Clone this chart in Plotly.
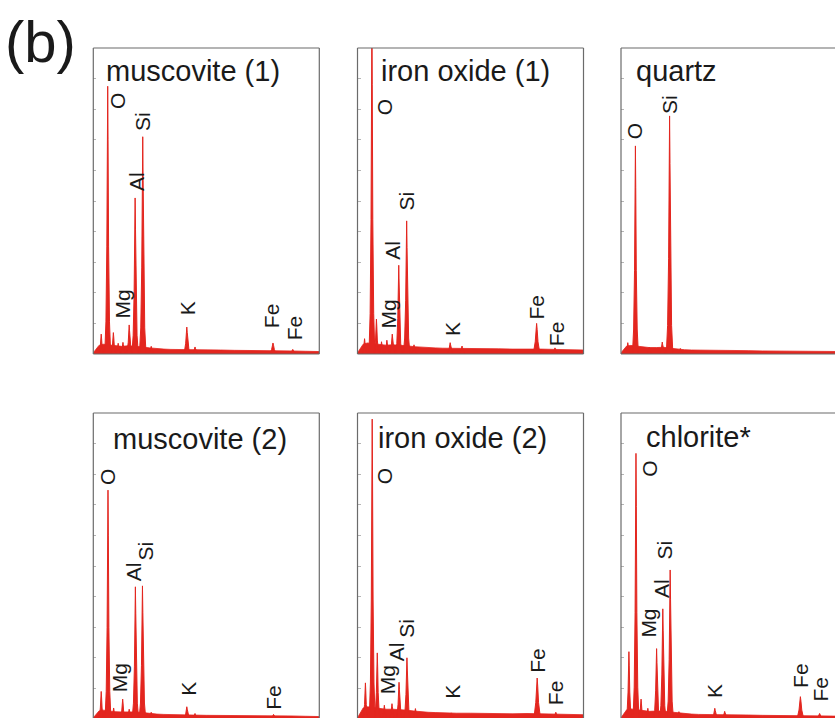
import plotly.graph_objects as go

W, H = 835, 718
RED = "#e3261f"
BORDER = "#6b6b6b"
FONT = "Liberation Sans, Arial, sans-serif"

titles = ["muscovite (1)", "iron oxide (1)", "quartz",
          "muscovite (2)", "iron oxide (2)", "chlorite*"]

# ---- peak positions (keV) and heights (% of panel full scale) ----
musc1_pe = [0.28, 0.51, 0.71, 0.88, 1.05, 1.27, 1.48, 1.75, 2.05, 3.31, 3.60, 6.36, 7.06]
musc1_ph = [6.5, 87.5, 7.0, 3.5, 3.8, 9.5, 51.0, 71.0, 2.5, 8.8, 2.3, 3.6, 1.5]

iron1_pe = [0.25, 0.51, 0.67, 0.85, 1.04, 1.23, 1.46, 1.74, 2.00, 3.28, 3.70, 6.34, 6.99]
iron1_ph = [5.0, 110.0, 11.4, 4.0, 4.5, 6.5, 29.0, 43.5, 3.0, 3.7, 2.6, 10.0, 2.0]

quartz_pe = [0.24, 0.51, 1.00, 1.46, 1.72, 2.10]
quartz_ph = [3.7, 68.0, 2.2, 3.9, 77.8, 1.8]

musc2_pe = [0.28, 0.52, 0.72, 1.04, 1.27, 1.49, 1.74, 2.05, 3.31, 3.60, 6.38]
musc2_ph = [9.0, 74.8, 3.6, 6.5, 3.2, 43.2, 43.5, 2.2, 4.0, 1.8, 1.5]

iron2_pe = [0.28, 0.52, 0.70, 0.95, 1.22, 1.47, 1.75, 2.05, 3.32, 6.36, 7.02]
iron2_ph = [11.8, 98.0, 21.6, 4.5, 5.0, 12.0, 20.0, 3.4, 2.0, 13.4, 2.2]

chlor_pe = [0.28, 0.53, 0.71, 0.95, 1.26, 1.48, 1.74, 2.05, 3.32, 3.67, 6.35, 7.03]
chlor_ph = [22.0, 86.8, 6.5, 3.5, 23.0, 36.0, 48.7, 2.4, 3.5, 2.5, 7.3, 1.8]

# ---- continuum background (keV grid, % of full scale) ----
bg_e = [0.0, 0.1, 0.2, 0.35, 0.5, 0.75, 1.0, 1.25, 1.5, 1.75, 2.0, 2.25, 2.5,
        2.75, 3.0, 3.5, 4.0, 4.5, 5.0, 5.5, 6.0, 6.5, 7.0, 7.5, 8.0]
musc1_bg = [0.4, 1.6, 2.8, 3.2, 3.0, 2.6, 2.5, 2.7, 2.6, 2.3, 2.0, 1.7, 1.6,
            1.5, 1.5, 1.4, 1.3, 1.3, 1.2, 1.2, 1.1, 1.0, 1.0, 0.9, 0.8]
iron1_bg = [0.4, 1.9, 3.2, 3.6, 3.4, 3.0, 2.9, 3.0, 2.9, 2.7, 2.4, 2.2, 2.0,
            2.0, 1.9, 1.9, 1.8, 1.7, 1.7, 1.6, 1.7, 1.6, 1.5, 1.4, 1.3]
quartz_bg = [0.4, 1.6, 2.6, 2.8, 2.6, 2.2, 2.1, 2.1, 2.2, 1.9, 1.6, 1.4, 1.3,
             1.3, 1.2, 1.2, 1.1, 1.1, 1.0, 1.0, 1.0, 0.9, 0.9, 0.9, 0.8]
musc2_bg = [0.4, 1.5, 2.6, 2.9, 2.7, 2.4, 2.3, 2.4, 2.3, 2.1, 1.8, 1.6, 1.5,
            1.4, 1.4, 1.3, 1.2, 1.2, 1.1, 1.1, 1.1, 1.0, 1.0, 0.9, 0.8]
iron2_bg = [0.4, 2.2, 3.6, 4.0, 3.8, 3.4, 3.2, 3.2, 3.1, 2.9, 2.6, 2.3, 2.2,
            2.1, 2.0, 1.9, 1.9, 1.8, 1.8, 1.7, 1.8, 1.7, 1.6, 1.5, 1.4]
chlor_bg = [0.4, 1.8, 3.0, 3.3, 3.1, 2.7, 2.5, 2.6, 2.6, 2.3, 2.0, 1.7, 1.6,
            1.5, 1.5, 1.4, 1.3, 1.3, 1.2, 1.2, 1.2, 1.1, 1.1, 1.0, 0.9]

# ---- element labels: text, energy position (keV), height (%) ----
musc1_lt = ["O", "Si", "Al", "Mg", "K", "Fe", "Fe"]
musc1_lx = [0.88, 1.72, 1.51, 1.03, 3.32, 6.29, 7.15]
musc1_ly = [82.7, 76.1, 56.5, 16.3, 15.0, 12.7, 8.5]

iron1_lt = ["O", "Si", "Al", "Mg", "K", "Fe", "Fe"]
iron1_lx = [0.96, 1.70, 1.25, 1.11, 3.36, 6.34, 7.05]
iron1_ly = [80.5, 50.0, 34.0, 13.2, 8.3, 15.4, 6.7]

quartz_lt = ["O", "Si"]
quartz_lx = [0.51, 1.72]
quartz_ly = [72.9, 81.6]

musc2_lt = ["O", "Al", "Si", "Mg", "K", "Fe"]
musc2_lx = [0.50, 1.42, 1.86, 0.91, 3.34, 6.38]
musc2_ly = [79.2, 48.1, 55.0, 13.3, 9.8, 7.1]

iron2_lt = ["O", "Si", "Al", "Mg", "K", "Fe", "Fe"]
iron2_lx = [0.96, 1.73, 1.38, 1.05, 3.38, 6.36, 7.02]
iron2_ly = [79.2, 29.6, 22.0, 12.7, 8.9, 19.1, 8.7]

chlor_lt = ["O", "Si", "Al", "Mg", "K", "Fe", "Fe"]
chlor_lx = [1.00, 1.54, 1.44, 0.97, 3.33, 6.35, 7.06]
chlor_ly = [81.9, 55.2, 42.7, 31.3, 9.2, 14.2, 9.8]

panels = [
    (musc1_pe, musc1_ph, musc1_bg, musc1_lt, musc1_lx, musc1_ly),
    (iron1_pe, iron1_ph, iron1_bg, iron1_lt, iron1_lx, iron1_ly),
    (quartz_pe, quartz_ph, quartz_bg, quartz_lt, quartz_lx, quartz_ly),
    (musc2_pe, musc2_ph, musc2_bg, musc2_lt, musc2_lx, musc2_ly),
    (iron2_pe, iron2_ph, iron2_bg, iron2_lt, iron2_lx, iron2_ly),
    (chlor_pe, chlor_ph, chlor_bg, chlor_lt, chlor_lx, chlor_ly),
]

# ---- layout geometry (pixels) ----
E_MAX = 8.0
PANEL_W, PANEL_H = 226.0, 306.0
col_left = [93.3, 357.5, 621.0]
row_top = [48.0, 413.0]
title_pos = [(104, 71), (379, 71), (634, 71), (111, 439), (376, 438), (644, 437)]
# peak profile (relative offsets scaled by width, relative heights)
PROFILE = [(-1.0, 0.0), (-0.6, 0.12), (-0.3, 0.4), (-0.12, 0.8), (0.0, 1.0),
           (0.12, 0.8), (0.3, 0.4), (0.6, 0.12), (1.0, 0.0)]

fig = go.Figure()
shapes, annotations = [], []

for i, (pe, ph, bg, lt, lx, ly) in enumerate(panels):
    r, c = divmod(i, 3)
    n = i + 1
    xa = "xaxis" if n == 1 else f"xaxis{n}"
    ya = "yaxis" if n == 1 else f"yaxis{n}"
    xr = "x" if n == 1 else f"x{n}"
    yr = "y" if n == 1 else f"y{n}"

    left = col_left[c]
    right_full = left + PANEL_W
    right = min(right_full, W)
    top = row_top[r]
    bottom_full = top + PANEL_H
    bottom = min(bottom_full, H)

    x_hi = E_MAX * (right - left) / PANEL_W
    y_lo = 100.0 * (bottom_full - bottom) / PANEL_H

    fig.layout[xa] = dict(domain=[left / W, right / W], range=[0, x_hi],
                          showgrid=False, zeroline=False, showticklabels=False,
                          ticks="", showline=False, anchor=yr, fixedrange=True)
    fig.layout[ya] = dict(domain=[(H - bottom) / H, (H - top) / H],
                          range=[y_lo, 100], showgrid=False, zeroline=False,
                          showticklabels=False, ticks="inside", ticklen=3,
                          tickcolor="#b5b5b5", dtick=10, tick0=0,
                          showline=False, anchor=xr, fixedrange=True)

    # continuum
    fig.add_trace(go.Scatter(x=bg_e, y=bg, mode="lines", fill="tozeroy",
                             fillcolor=RED, line=dict(color=RED, width=0.8),
                             xaxis=xr, yaxis=yr, hoverinfo="skip",
                             showlegend=False))
    # peaks
    px, py = [], []
    for e, h in zip(pe, ph):
        w = 0.10 * (1.0 + 0.10 * e)
        for dx, fy in PROFILE:
            px.append(e + dx * w)
            py.append(h * fy)
        px.append(None)
        py.append(None)
    fig.add_trace(go.Scatter(x=px, y=py, mode="lines", fill="toself",
                             fillcolor=RED, line=dict(color=RED, width=1.0),
                             xaxis=xr, yaxis=yr, hoverinfo="skip",
                             showlegend=False))

    # borders
    lw = 1.2
    shapes.append(dict(type="line", xref="paper", yref="paper",
                       x0=left / W, x1=right / W, y0=(H - top) / H, y1=(H - top) / H,
                       line=dict(color=BORDER, width=lw)))
    shapes.append(dict(type="line", xref="paper", yref="paper",
                       x0=left / W, x1=left / W, y0=(H - top) / H, y1=(H - bottom) / H,
                       line=dict(color=BORDER, width=lw)))
    if right_full <= W:
        shapes.append(dict(type="line", xref="paper", yref="paper",
                           x0=right / W, x1=right / W, y0=(H - top) / H,
                           y1=(H - bottom) / H, line=dict(color=BORDER, width=lw)))
    if bottom_full <= H:
        shapes.append(dict(type="line", xref="paper", yref="paper",
                           x0=left / W, x1=right / W, y0=(H - bottom) / H,
                           y1=(H - bottom) / H, line=dict(color=BORDER, width=lw)))

    # title
    tx, ty = title_pos[i]
    annotations.append(dict(text=titles[i], xref="paper", yref="paper",
                            x=tx / W, y=1 - ty / H, xanchor="left", yanchor="middle",
                            showarrow=False,
                            font=dict(family=FONT, size=29, color="#1a1a1a")))
    # element labels
    for t, x, y in zip(lt, lx, ly):
        annotations.append(dict(text=t, xref=xr, yref=yr, x=x, y=y,
                                xanchor="center", yanchor="middle",
                                textangle=-90, showarrow=False,
                                font=dict(family=FONT, size=21, color="#1a1a1a")))

annotations.append(dict(text="(b)", xref="paper", yref="paper",
                        x=40 / W, y=1 - 41 / H, xanchor="center", yanchor="middle",
                        showarrow=False,
                        font=dict(family=FONT, size=58, color="#1a1a1a")))

fig.update_layout(width=W, height=H, margin=dict(l=0, r=0, t=0, b=0),
                  paper_bgcolor="white", plot_bgcolor="white",
                  shapes=shapes, annotations=annotations, showlegend=False)

fig.write_html("out.html", config={"displayModeBar": False})
